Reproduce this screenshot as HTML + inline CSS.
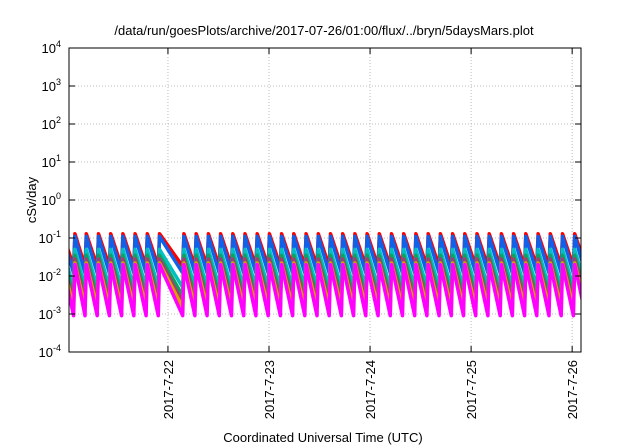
<!DOCTYPE html>
<html><head><meta charset="utf-8"><style>
body{margin:0;background:#fff;}
svg{display:block;font-family:"Liberation Sans",sans-serif;}
</style></head><body>
<svg id="chart" width="640" height="448" viewBox="0 0 640 448">
<text x="324" y="35" font-size="13" text-anchor="middle">/data/run/goesPlots/archive/2017-07-26/01:00/flux/../bryn/5daysMars.plot</text>
<text transform="translate(36,200) rotate(-90)" font-size="13" text-anchor="middle">cSv/day</text>
<text x="323" y="442" font-size="13" text-anchor="middle">Coordinated Universal Time (UTC)</text>
<g id="grid"></g>
<g id="series" clip-path="url(#clip)"></g>
<defs><clipPath id="clip"><rect x="69" y="48" width="512" height="304"/></clipPath></defs>
<rect x="69" y="48" width="512" height="304" fill="none" stroke="#000" stroke-width="1"/>
<g id="ticks"></g>
</svg>
<script>
const yExponents=[-4,-3,-2,-1,0,1,2,3,4];
const dayLabels=["2017-7-22","2017-7-23","2017-7-24","2017-7-25","2017-7-26"];
const dayHours=[24,48,72,96,120];
const peakHours=[-1.0,1.9,4.6,7.5,10.4,13.3,16.2,19.1,22.0,27.8,30.7,33.6,36.5,39.4,42.3,45.2,48.1,51.0,53.9,56.8,59.7,62.6,65.5,68.4,71.3,74.2,77.1,80.0,82.9,85.8,88.7,91.6,94.5,97.4,100.3,103.2,106.1,109.0,111.9,114.8,117.7,120.6,123.5];
const seriesNames=["red","blue","teal","green","purple","orange","magenta"];
const seriesColors=["#ff0000","#1060e8","#00c0c0","#10a060","#a04070","#e0a000","#ff00ff"];
const seriesPeak=[0.13,0.11,0.05,0.035,0.028,0.022,0.02];
const seriesTrough=[0.018,0.012,0.005,0.003,0.002,0.0015,0.0009];
const X0=69,X1=581,Y0=48,Y1=352,HMIN=0.5,HMAX=122.1;
const NS="http://www.w3.org/2000/svg";
function xs(h){return X0+(h-HMIN)/(HMAX-HMIN)*(X1-X0);}
function ys(v){return Y1-(Math.log10(v)+4)/8*(Y1-Y0);}
const grid=document.getElementById('grid'),ticks=document.getElementById('ticks'),ser=document.getElementById('series');
yExponents.forEach(e=>{
 const y=ys(Math.pow(10,e));
 if(e>-4&&e<4){const l=document.createElementNS(NS,'line');
 
 
 l.setAttribute('x1',X0);l.setAttribute('x2',X1);l.setAttribute('y1',y);l.setAttribute('y2',y);
 l.setAttribute('stroke','#bbb');l.setAttribute('stroke-dasharray','1,2');grid.appendChild(l);}
 [[X0,X0+6],[X1-6,X1]].forEach(p=>{const t=document.createElementNS(NS,'line');
 
 
 t.setAttribute('x1',p[0]);t.setAttribute('x2',p[1]);t.setAttribute('y1',y);t.setAttribute('y2',y);t.setAttribute('stroke','#000');ticks.appendChild(t);});
 const tx=document.createElementNS(NS,'text');
 
 
 tx.setAttribute('x',X0-8);tx.setAttribute('y',y+5);tx.setAttribute('font-size','13');tx.setAttribute('text-anchor','end');
 tx.innerHTML='10<tspan dy="-6" font-size="9">'+e+'</tspan>';ticks.appendChild(tx);
});
dayHours.forEach((h,i)=>{
 const x=xs(h);
 const l=document.createElementNS(NS,'line');
 
 
 l.setAttribute('x1',x);l.setAttribute('x2',x);l.setAttribute('y1',Y0);l.setAttribute('y2',Y1);
 l.setAttribute('stroke','#bbb');l.setAttribute('stroke-dasharray','1,2');grid.appendChild(l);
 [[Y1,Y1-6],[Y0,Y0+6]].forEach(p=>{const t=document.createElementNS(NS,'line');
 
 
 t.setAttribute('x1',x);t.setAttribute('x2',x);t.setAttribute('y1',p[0]);t.setAttribute('y2',p[1]);t.setAttribute('stroke','#000');ticks.appendChild(t);});
 const tx=document.createElementNS(NS,'text');
 
 
 tx.setAttribute('transform','translate('+(x+5)+','+(Y1+8)+') rotate(-90)');
 tx.setAttribute('font-size','13');tx.setAttribute('text-anchor','end');tx.textContent=dayLabels[i];ticks.appendChild(tx);
});
seriesNames.forEach((n,s)=>{
 let d='';
 for(let i=0;i<peakHours.length;i++){
  const hp=peakHours[i];
  d+=(i===0?'M':'L')+xs(hp).toFixed(1)+','+ys(seriesPeak[s]).toFixed(1);
  if(i<peakHours.length-1){const hn=peakHours[i+1]-0.3;
   d+='L'+xs(hn).toFixed(1)+','+ys(seriesTrough[s]).toFixed(1);}
 }
 const p=document.createElementNS(NS,'path');
 
 
 p.setAttribute('d',d);p.setAttribute('fill','none');p.setAttribute('stroke',seriesColors[s]);
 p.setAttribute('stroke-width','3.5');p.setAttribute('stroke-linejoin','round');ser.appendChild(p);
});
</script>
</body></html>
